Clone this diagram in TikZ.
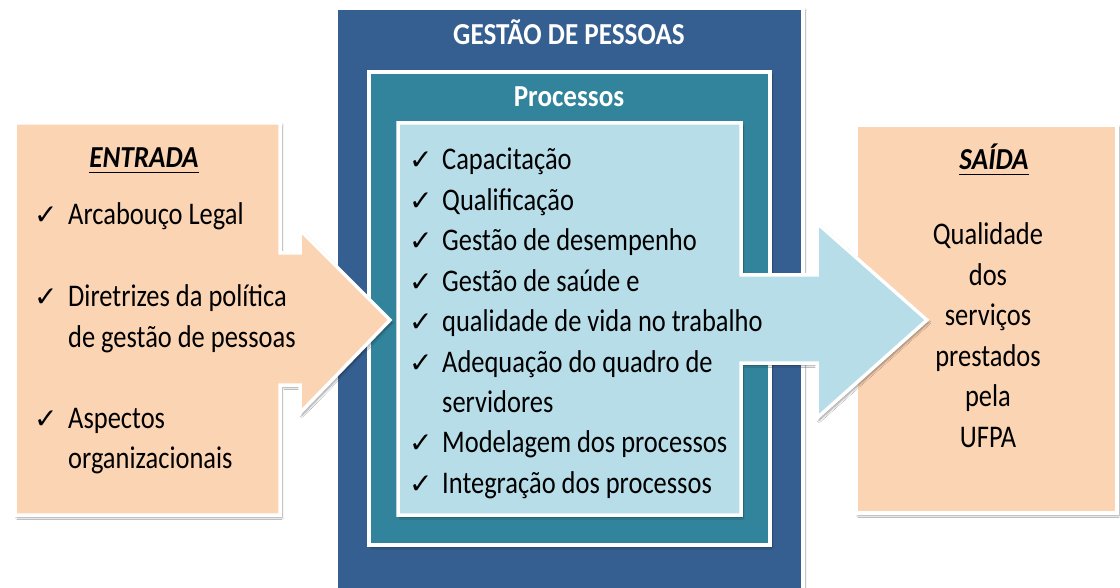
\documentclass[tikz,border=0pt]{standalone}
\usepackage{fontspec}
\setmainfont{Carlito}[FakeStretch=0.84]
\newfontfamily\titlefont{Carlito}[FakeStretch=0.89]
\newfontfamily\chkfont{DejaVu Sans}
\usetikzlibrary{shadows.blur}
\definecolor{peach}{HTML}{FBD4B4}
\definecolor{darkblue}{HTML}{365F91}
\definecolor{tealbox}{HTML}{31849B}
\definecolor{lightblue}{HTML}{B7DDE8}
\newcommand\bodysize{\fontsize{31.5}{38}\selectfont}
\newcommand\titlesize{\fontsize{30.5}{36}\selectfont}
\tikzset{
  boxshadow/.style={blur shadow={shadow xshift=2pt, shadow yshift=-2.5pt, shadow blur steps=6, shadow opacity=40}},
  panel/.style={draw=white, line width=3.5pt, line join=miter, boxshadow},
  txt/.style={inner sep=0pt, anchor=base west, font=\bodysize},
  ctxt/.style={inner sep=0pt, anchor=base, font=\bodysize},
  chk/.style={inner sep=0pt, anchor=base west, font=\chkfont\fontsize{28}{30}\selectfont},
  ttl/.style={inner sep=0pt, anchor=base, font=\titlefont\bfseries\titlesize},
  ulttl/.style={inner sep=0pt, anchor=base, font=\titlefont\bfseries\itshape\titlesize},
}
\begin{document}
\begin{tikzpicture}[x=1pt,y=-1pt]
\fill[white] (0,0) rectangle (1120,588);
\useasboundingbox (0,0) rectangle (1120,588);
% central nested boxes
\path[panel, fill=darkblue] (336,8) rectangle (803,600);
\path[panel, fill=tealbox] (369,72) rectangle (770,545);
% right box
\path[panel, fill=peach] (856,125) rectangle (1117,513);
% light blue box merged with its output arrow
\path[panel, fill=lightblue] (398,123) -- (741,123) -- (741,275) -- (817,275) -- (817,223)
  -- (927,320) -- (817,418) -- (817,363) -- (741,363) -- (741,515) -- (398,515) -- cycle;
% left box merged with its input arrow
\path[panel, fill=peach] (15,123) -- (280,123) -- (280,253) -- (300,253) -- (300,230)
  -- (390,320) -- (300,413) -- (300,385) -- (280,385) -- (280,515) -- (15,515) -- cycle;
% titles
\node[ttl, text=white] (gp) at (569,45) {GESTÃO DE PESSOAS};
\node[ttl, text=white] (proc) at (569,107) {Processos};
\node[ulttl] (ent) at (144,168) {ENTRADA};
\draw[line width=1.8pt] ([yshift=-4.5pt]ent.base west) -- ([yshift=-4.5pt]ent.base east);
\node[ulttl] (sai) at (994,170) {SAÍDA};
\draw[line width=1.8pt] ([yshift=-4.5pt]sai.base west) -- ([yshift=-4.5pt]sai.base east);
% left list
\node[chk] (lc1) at (34,225) {✓};
\node[txt] (l1) at (68,225) {Arcabouço Legal};
\node[chk] (lc2) at (34,307) {✓};
\node[txt] (l2) at (68,307) {Diretrizes da política};
\node[txt] (l3) at (68,347) {de gestão de pessoas};
\node[chk] (lc3) at (34,428) {✓};
\node[txt] (l4) at (68,428) {Aspectos};
\node[txt] (l5) at (68,468) {organizacionais};
% central list
\node[chk] (cc1) at (409,170) {✓};
\node[txt] (c1) at (442,170) {Capacitação};
\node[chk] (cc2) at (409,210.4) {✓};
\node[txt] (c2) at (442,210.4) {Qualificação};
\node[chk] (cc3) at (409,250.8) {✓};
\node[txt] (c3) at (442,250.8) {Gestão de desempenho};
\node[chk] (cc4) at (409,291.2) {✓};
\node[txt] (c4) at (442,291.2) {Gestão de saúde e};
\node[chk] (cc5) at (409,331.6) {✓};
\node[txt] (c5) at (442,331.6) {qualidade de vida no trabalho};
\node[chk] (cc6) at (409,372) {✓};
\node[txt] (c6) at (442,372) {Adequação do quadro de};
\node[txt] (c7) at (442,412.4) {servidores};
\node[chk] (cc8) at (409,452.8) {✓};
\node[txt] (c8) at (442,452.8) {Modelagem dos processos};
\node[chk] (cc9) at (409,493.2) {✓};
\node[txt] (c9) at (442,493.2) {Integração dos processos};
% right text
\node[ctxt] (r1) at (988,245) {Qualidade};
\node[ctxt] (r2) at (988,285.4) {dos};
\node[ctxt] (r3) at (988,325.8) {serviços};
\node[ctxt] (r4) at (988,366.2) {prestados};
\node[ctxt] (r5) at (988,406.6) {pela};
\node[ctxt] (r6) at (988,447) {UFPA};
\end{tikzpicture}
\end{document}
